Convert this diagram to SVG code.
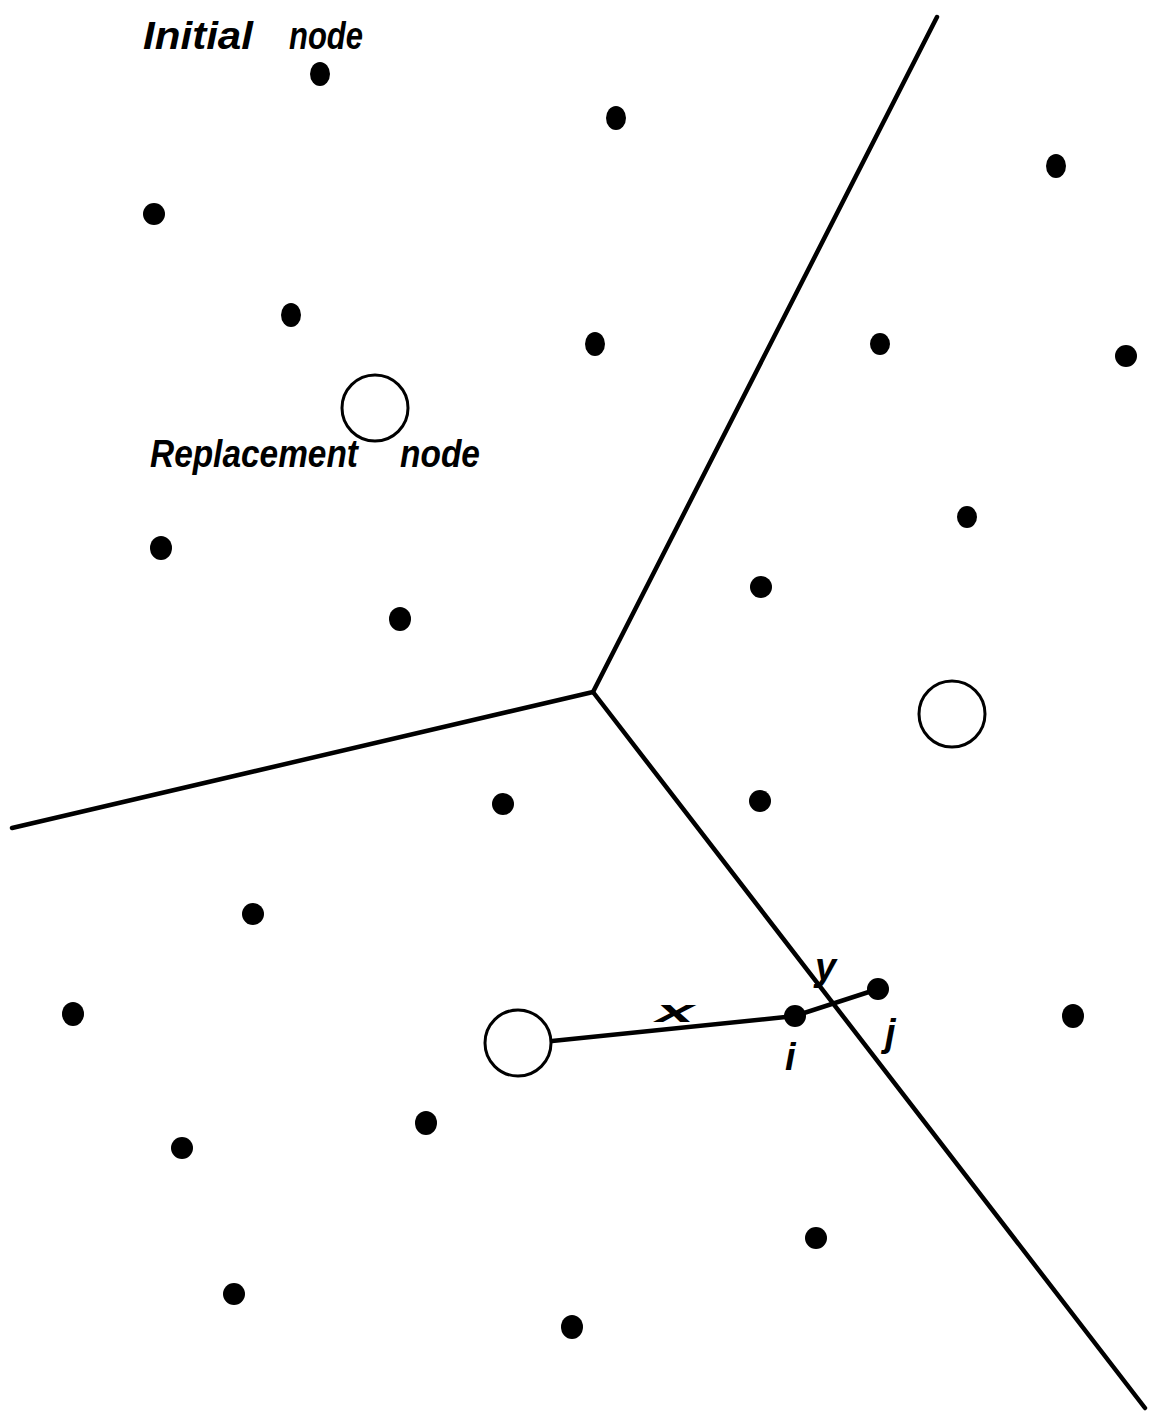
<svg xmlns="http://www.w3.org/2000/svg" width="1159" height="1425" viewBox="0 0 1159 1425">
<style>
.dot{fill:#000}
.open{fill:#fff;stroke:#000;stroke-width:3}
.edge{stroke:#000;stroke-width:4.5;fill:none;stroke-linecap:round}
.lbl{font-family:"Liberation Sans",Arial,sans-serif;font-style:italic;font-weight:bold;fill:#000}
</style>
<rect width="1159" height="1425" fill="#fff"/>
<g id="connectors">
<line class="edge" x1="593" y1="692" x2="937" y2="17"/>
<line class="edge" x1="593" y1="692" x2="12" y2="828"/>
<line class="edge" x1="593" y1="692" x2="1145" y2="1408"/>
<line class="edge" x1="552" y1="1041" x2="795" y2="1016"/>
<line class="edge" x1="795" y1="1016" x2="878" y2="989"/>
</g>
<g id="dots">
<ellipse class="dot" cx="320" cy="74" rx="10" ry="12"/>
<ellipse class="dot" cx="616" cy="118" rx="10" ry="12"/>
<ellipse class="dot" cx="1056" cy="166" rx="10" ry="12"/>
<ellipse class="dot" cx="154" cy="214" rx="11" ry="11"/>
<ellipse class="dot" cx="291" cy="315" rx="10" ry="12"/>
<ellipse class="dot" cx="595" cy="344" rx="10" ry="12"/>
<ellipse class="dot" cx="880" cy="344" rx="10" ry="11"/>
<ellipse class="dot" cx="1126" cy="356" rx="11" ry="11"/>
<ellipse class="dot" cx="967" cy="517" rx="10" ry="11"/>
<ellipse class="dot" cx="161" cy="548" rx="11" ry="12"/>
<ellipse class="dot" cx="400" cy="619" rx="11" ry="12"/>
<ellipse class="dot" cx="761" cy="587" rx="11" ry="11"/>
<ellipse class="dot" cx="503" cy="804" rx="11" ry="11"/>
<ellipse class="dot" cx="760" cy="801" rx="11" ry="11"/>
<ellipse class="dot" cx="253" cy="914" rx="11" ry="11"/>
<ellipse class="dot" cx="73" cy="1014" rx="11" ry="12"/>
<ellipse class="dot" cx="1073" cy="1016" rx="11" ry="12"/>
<ellipse class="dot" cx="426" cy="1123" rx="11" ry="12"/>
<ellipse class="dot" cx="182" cy="1148" rx="11" ry="11"/>
<ellipse class="dot" cx="816" cy="1238" rx="11" ry="11"/>
<ellipse class="dot" cx="234" cy="1294" rx="11" ry="11"/>
<ellipse class="dot" cx="572" cy="1327" rx="11" ry="12"/>
</g>
<g id="node-i"><ellipse class="dot" cx="795" cy="1016" rx="11" ry="11"/></g>
<g id="node-j"><ellipse class="dot" cx="878" cy="989" rx="11" ry="11"/></g>
<g id="replacement-1"><circle class="open" cx="375" cy="408" r="33"/></g>
<g id="replacement-2"><circle class="open" cx="952" cy="714" r="33"/></g>
<g id="replacement-3"><circle class="open" cx="518" cy="1043" r="33"/></g>
<g id="labels">
<text class="lbl" x="143" y="49" font-size="38" textLength="110" lengthAdjust="spacingAndGlyphs">Initial</text>
<text class="lbl" x="289" y="49" font-size="38" textLength="74" lengthAdjust="spacingAndGlyphs">node</text>
<text class="lbl" x="150" y="467" font-size="38" textLength="208" lengthAdjust="spacingAndGlyphs">Replacement</text>
<text class="lbl" x="400" y="467" font-size="38" textLength="80" lengthAdjust="spacingAndGlyphs">node</text>
<text class="lbl" x="656" y="1022" font-size="32" textLength="38" lengthAdjust="spacingAndGlyphs">x</text>
<text class="lbl" x="815" y="980" font-size="38">y</text>
<text class="lbl" x="785" y="1070" font-size="38">i</text>
<text class="lbl" x="885" y="1046" font-size="38">j</text>
</g>
</svg>
